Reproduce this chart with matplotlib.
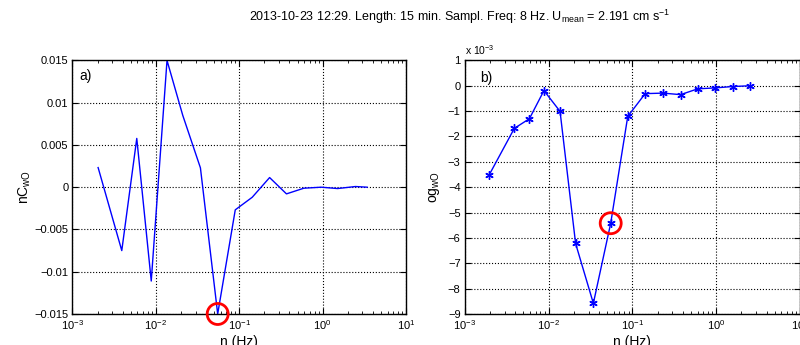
import numpy as np
import matplotlib
matplotlib.use('Agg')
import matplotlib.pyplot as plt
from matplotlib.patches import Circle

plt.rcParams['font.family'] = ['Liberation Sans', 'DejaVu Sans']
plt.rcParams['mathtext.fontset'] = 'custom'
plt.rcParams['mathtext.rm'] = 'Liberation Sans'
plt.rcParams['mathtext.it'] = 'Liberation Sans:italic'

# frequencies (Hz)
freq_a = [0.00203, 0.0039, 0.0059, 0.0088, 0.0136, 0.0210, 0.0342, 0.0551, 0.0895,
          0.143, 0.231, 0.368, 0.594, 0.96, 1.51, 2.47, 3.41]
nC_wO = [0.00232, -0.0075, 0.00577, -0.0111, 0.0150, 0.0085, 0.00229, -0.0150, -0.00268,
         -0.00119, 0.00114, -0.00079, -0.00012, 0.0, -0.00016, 0.00008, 0.0]

freq_b = [0.00195, 0.0039, 0.0059, 0.0088, 0.0137, 0.0210, 0.0342, 0.0551, 0.088,
          0.142, 0.233, 0.375, 0.604, 0.964, 1.57, 2.52]
og_wO = [-3.52e-3, -1.68e-3, -1.30e-3, -0.19e-3, -1.01e-3, -6.22e-3, -8.58e-3, -5.42e-3,
         -1.21e-3, -0.31e-3, -0.29e-3, -0.35e-3, -0.12e-3, -0.085e-3, -0.03e-3, 0.0]

# highlighted point index (red circle)
hl = 7

title = '2013-10-23 12:29. Length: 15 min. Sampl. Freq: 8 Hz. U$_{\\mathrm{mean}}$ = 2.191 cm s$^{-1}$'

fig = plt.figure(figsize=(8, 3.45), dpi=100)
ax1 = fig.add_axes([0.0906, 0.0899, 0.417, 0.735])
ax2 = fig.add_axes([0.581, 0.0899, 0.419, 0.735])


def style(ax):
    ax.set_xscale('log')
    ax.set_xlim(1e-3, 1e1)
    ax.set_xticks([1e-3, 1e-2, 1e-1, 1e0, 1e1])
    ax.grid(True, which='major', linestyle=':', color='black', linewidth=0.8)
    ax.tick_params(which='both', direction='in', top=True, right=True, labelsize=8, pad=3)
    ax.tick_params(which='major', length=4)
    ax.tick_params(which='minor', length=2)
    for s in ax.spines.values():
        s.set_linewidth(1.0)
    ax.set_xlabel('n (Hz)', fontsize=10, labelpad=2)


# panel a
ax1.plot(freq_a, nC_wO, color='blue', linewidth=1.0)
style(ax1)
ax1.set_ylim(-0.015, 0.015)
ax1.set_yticks([-0.015, -0.01, -0.005, 0, 0.005, 0.01, 0.015])
ax1.set_yticklabels(['\u22120.015', '\u22120.01', '\u22120.005', '0', '0.005', '0.01', '0.015'])
ax1.set_ylabel('nC$_{\\mathrm{wO}}$', fontsize=10, labelpad=1)
ax1.text(0.02, 0.965, 'a)', transform=ax1.transAxes, fontsize=10, va='top')

# panel b
og_scaled = np.array(og_wO) * 1e3
ax2.plot(freq_b, og_scaled, color='blue', linewidth=1.0,
         marker=(6, 2, 0), markersize=6, markeredgewidth=1.0)
style(ax2)
ax2.set_ylim(-9, 1)
ax2.set_yticks(np.arange(-9, 2, 1))
ax2.set_ylabel('og$_{\\mathrm{wO}}$', fontsize=10, labelpad=4)
ax2.text(0.045, 0.96, 'b)', transform=ax2.transAxes, fontsize=10, va='top')
ax2.text(0.0, 1.015, 'x 10$^{-3}$', transform=ax2.transAxes, fontsize=7.5, va='bottom')


def circle(ax, x, y, r_px):
    # red circle of r_px pixels around a data point
    cx, cy = ax.transData.transform((x, y))
    c = Circle((cx, cy), r_px, transform=None, fill=False, edgecolor='red',
               linewidth=2.0, clip_on=False)
    fig.add_artist(c)


fig.canvas.draw()
circle(ax1, freq_a[hl], nC_wO[hl], 10.5)
circle(ax2, freq_b[hl], og_scaled[hl], 10.5)

fig.text(0.575, 0.951, title, ha='center', va='center', fontsize=9)

fig.savefig('out.png', dpi=100)
